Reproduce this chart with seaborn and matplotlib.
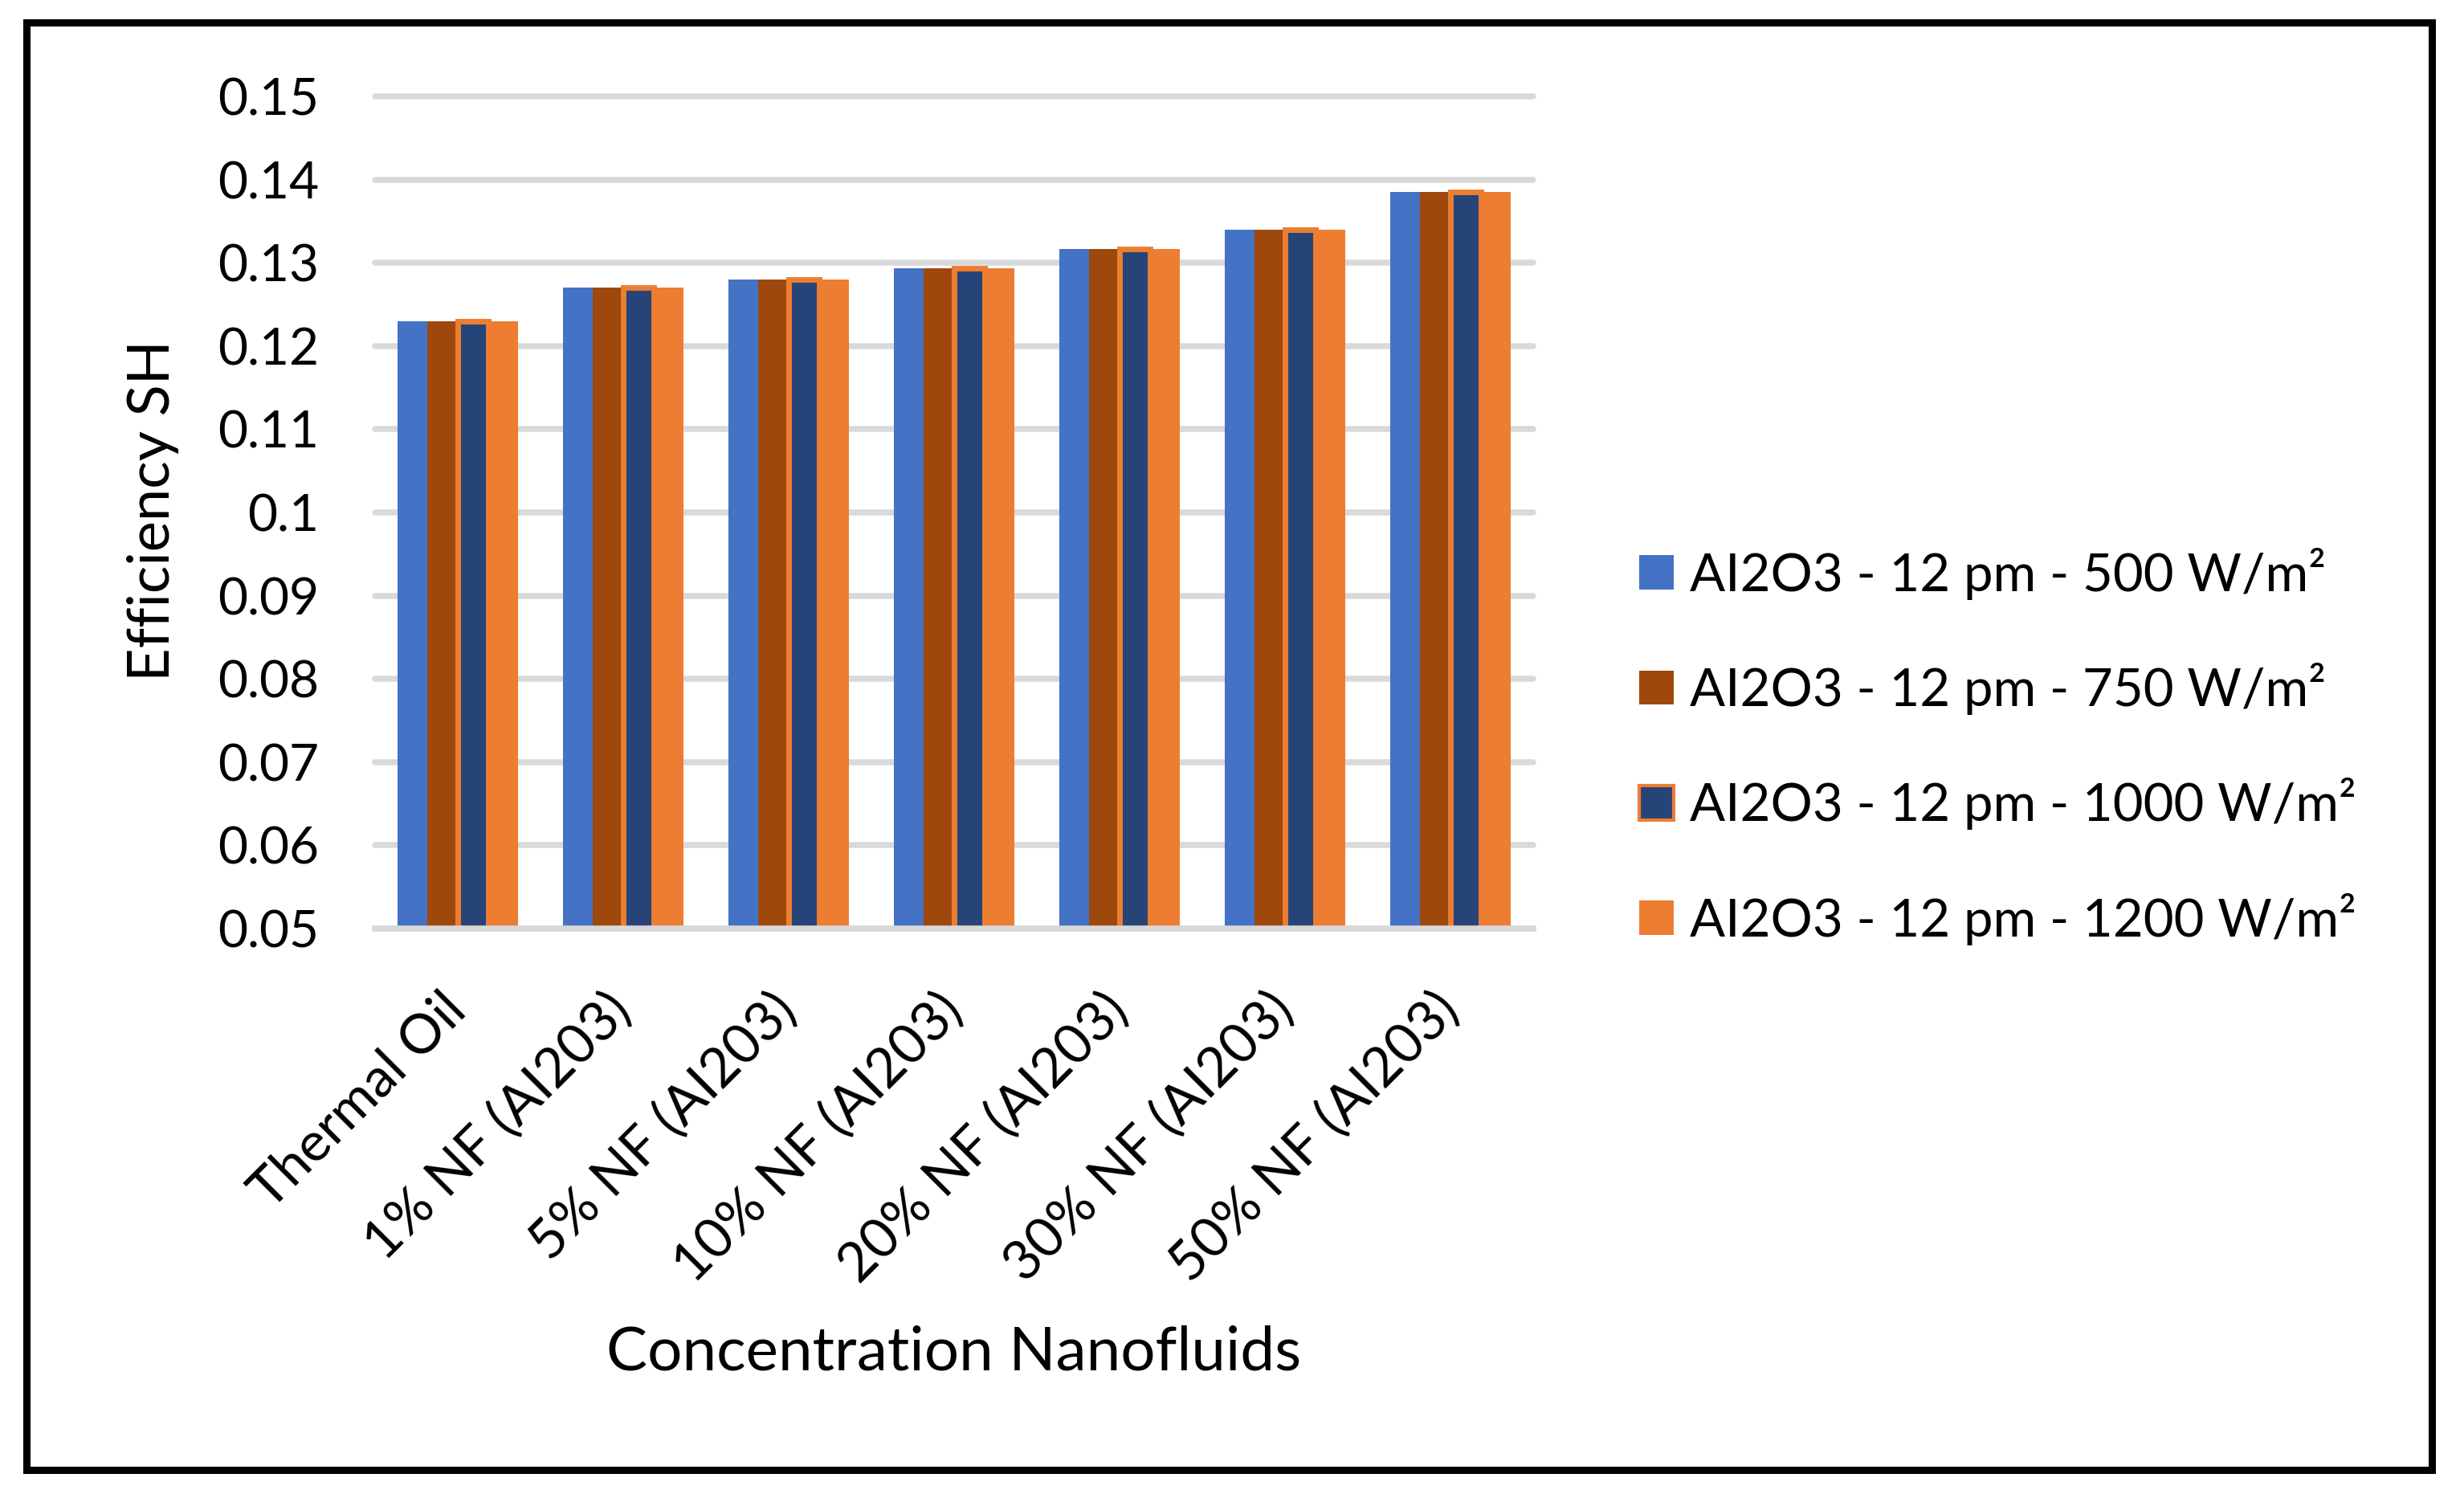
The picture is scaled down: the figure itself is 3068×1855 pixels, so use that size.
import matplotlib
matplotlib.use("Agg")
import matplotlib.pyplot as plt
import seaborn as sns
import pandas as pd
from matplotlib.patches import Rectangle

categories = ["Thermal Oil", "1% NF (AI203)", "5% NF (AI203)", "10% NF (AI203)",
              "20% NF (AI203)", "30% NF (AI203)", "50% NF (AI203)"]
series = ["AI2O3 - 12 pm - 500 W/m²", "AI2O3 - 12 pm - 750 W/m²",
          "AI2O3 - 12 pm - 1000 W/m²", "AI2O3 - 12 pm - 1200 W/m²"]
vals_500 = [0.1230, 0.1270, 0.1280, 0.1293, 0.1317, 0.1340, 0.1385]
vals_750 = [0.1230, 0.1270, 0.1280, 0.1293, 0.1317, 0.1340, 0.1385]
vals_1000 = [0.1230, 0.1270, 0.1280, 0.1293, 0.1317, 0.1340, 0.1385]
vals_1200 = [0.1230, 0.1270, 0.1280, 0.1293, 0.1317, 0.1340, 0.1385]
colors = ["#4472C4", "#9E480E", "#264478", "#ED7D31"]
yticks = [0.05, 0.06, 0.07, 0.08, 0.09, 0.1, 0.11, 0.12, 0.13, 0.14, 0.15]
ytick_labels = ["0.05", "0.06", "0.07", "0.08", "0.09", "0.1", "0.11", "0.12",
                "0.13", "0.14", "0.15"]

rows = []
for s, vals in zip(series, [vals_500, vals_750, vals_1000, vals_1200]):
    for c, v in zip(categories, vals):
        rows.append({"cat": c, "series": s, "value": v})
df = pd.DataFrame(rows)

sns.set_theme(style="white")
plt.rcParams["font.family"] = ["Lato", "DejaVu Sans"]

W, H = 3068, 1855
fig = plt.figure(figsize=(W / 100, H / 100), dpi=100)
ax = fig.add_axes([467 / W, 1 - 1156 / H, (1909 - 467) / W, (1156 - 120) / H])

sns.barplot(data=df, x="cat", y="value", hue="series", order=categories,
            hue_order=series, palette=colors, width=0.73, saturation=1,
            linewidth=0, ax=ax)

for p in ax.containers[2]:
    p.set_edgecolor("#ED7D31")
    p.set_linewidth(5.0)

ax.set_ylim(0.05, 0.15)
ax.set_xlim(-0.5, len(categories) - 0.5)
ax.set_yticks(yticks)
ax.set_yticklabels(ytick_labels)
ax.tick_params(axis="y", length=0, pad=50, labelsize=46, labelcolor="black")
ax.tick_params(axis="x", length=0, pad=66, labelsize=49, labelcolor="black")
for lab in ax.get_xticklabels():
    lab.set_rotation(45)
    lab.set_ha("right")
    lab.set_va("center")
    lab.set_rotation_mode("anchor")

ax.set_axisbelow(True)
ax.yaxis.grid(True, color="#D9D9D9", linewidth=5.4)
for gl in ax.get_ygridlines():
    gl.set_clip_on(False)
ax.xaxis.grid(False)
for sp in ["top", "right", "left"]:
    ax.spines[sp].set_visible(False)
ax.spines["bottom"].set_color("#D9D9D9")
ax.spines["bottom"].set_linewidth(5.4)

ax.set_xlabel("Concentration Nanofluids", fontsize=55, color="black")
ax.set_ylabel("Efficiency SH", fontsize=52, color="black")
ax.xaxis.set_label_coords(0.5, 1 - (1684 - 120) / (1156 - 120))
ax.yaxis.set_label_coords((191 - 467) / (1909 - 467), 1 - (636 - 120) / (1156 - 120))
ax.xaxis.label.set_va("center")
ax.yaxis.label.set_va("center")

handles, labels = ax.get_legend_handles_labels()
if ax.get_legend() is not None:
    ax.get_legend().remove()
leg = fig.legend(handles, labels, loc="center left",
                 bbox_to_anchor=(2041 / W, 1 - 929 / H), frameon=False,
                 fontsize=47, handlelength=0.66, handleheight=0.63,
                 handletextpad=0.3, labelspacing=1.2, borderpad=0,
                 borderaxespad=0)
for t in leg.get_texts():
    t.set_color("black")
lh = leg.legend_handles
for i, h in enumerate(lh):
    if i == 2:
        h.set_edgecolor("#ED7D31")
        h.set_linewidth(3.0)
    else:
        h.set_linewidth(0)

fig.patches.append(Rectangle((33 / W, 1 - 1830 / H), (3028 - 33) / W,
                             (1830 - 28) / H, transform=fig.transFigure,
                             fill=False, edgecolor="black", linewidth=6.5))

fig.savefig("out.png", dpi=100, facecolor="white")
